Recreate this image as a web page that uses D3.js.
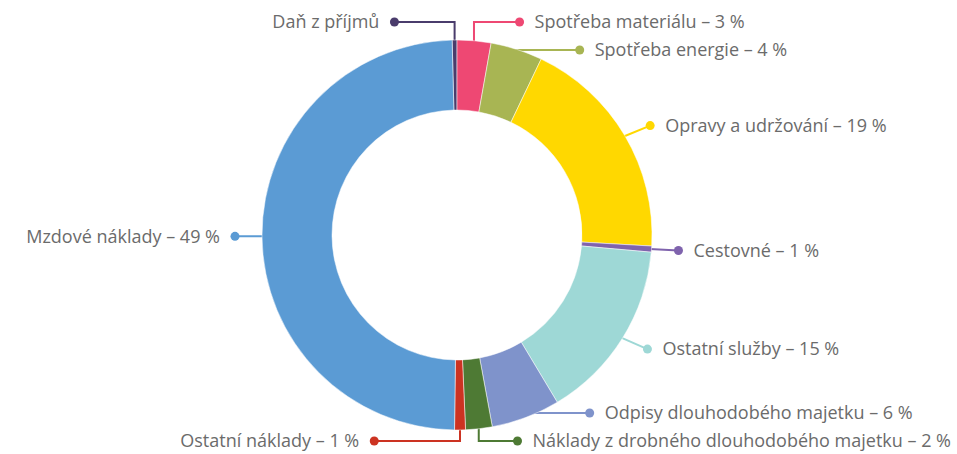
<!DOCTYPE html>
<html>
<head>
<meta charset="utf-8">
<script src="https://cdn.jsdelivr.net/npm/d3@7"></script>
<style>
  body { margin: 0; background: #fff; }
  text { font-family: "Open Sans", "Noto Sans", sans-serif; }
</style>
</head>
<body>
<div id="chart"></div>
<script>
// naklady - podily (%)
const categories = ["Daň z příjmů", "Spotřeba materiálu", "Spotřeba energie", "Opravy a udržování", "Cestovné",
    "Ostatní služby", "Odpisy dlouhodobého majetku", "Náklady z drobného dlouhodobého majetku", "Ostatní náklady", "Mzdové náklady"]
const values = [0.4, 2.8, 4.3, 18.8, 0.5, 15.0, 5.7, 2.2, 0.9, 49.4]
const percentLabels = ["", "3 %", "4 %", "19 %", "1 %", "15 %", "6 %", "2 %", "1 %", "49 %"]
const colors = ["#4a3c6c", "#ee4873", "#a8b553", "#ffd800", "#7f63ad", "#9ed8d6", "#7f93cb", "#4e7a34", "#cc3322", "#5b9bd4"]

const WIDTH = 957
const HEIGHT = 454
const cx = 457, cy = 235
const R = 195, r = 125
const TOP = 22, BOTTOM = 441, GAP = 28
const FONT_SIZE = 18

var svg = d3.select("#chart").append("svg")
    .attr("width", WIDTH)
    .attr("height", HEIGHT)

var data = categories.map(function (c, i) {
    return { name: c, value: values[i], pct: percentLabels[i], color: colors[i] }
})

var pie = d3.pie()
    .sort(null)
    .value(function (d) { return d.value })
    .startAngle(-0.025)
    .endAngle(2 * Math.PI - 0.025)

var arcs = pie(data)
var arc = d3.arc().innerRadius(r).outerRadius(R)

// measure label text so it can be kept inside the svg
var measure = svg.append("text").style("font-size", FONT_SIZE + "px")
arcs.forEach(function (d) {
    d.text = d.data.pct ? d.data.name + " – " + d.data.pct : d.data.name
    measure.text(d.text)
    d.tw = measure.node().getComputedTextLength()
})
measure.remove()

// label layout
arcs.forEach(function (d) {
    d.mid = (d.startAngle + d.endAngle) / 2
    d.ax = cx + (R - 2) * Math.sin(d.mid)
    d.ay = cy - (R - 2) * Math.cos(d.mid)
    d.right = d.ax > cx + 5
    d.ly = cy - (R + 20) * Math.cos(d.mid)
})

function spread(list) {
    list.sort(function (a, b) { return a.ly - b.ly })
    for (var i = 0; i < list.length; i++) {
        var min = i == 0 ? TOP : list[i - 1].ly + GAP
        list[i].ly = Math.max(list[i].ly, min)
    }
    for (var i = list.length - 1; i >= 0; i--) {
        var max = i == list.length - 1 ? BOTTOM : list[i + 1].ly - GAP
        list[i].ly = Math.min(list[i].ly, max)
    }
}
spread(arcs.filter(function (d) { return d.right }))
spread(arcs.filter(function (d) { return !d.right }))

arcs.forEach(function (d) {
    var dy = d.ly - cy
    var dx = Math.sqrt(Math.max(0, (R + 27) * (R + 27) - dy * dy))
    dx = Math.max(dx, Math.abs(d.ax - cx) + 25)
    if (d.right) {
        d.lx = Math.min(cx + dx, WIDTH - 6 - d.tw - 15)
    } else {
        d.lx = Math.max(cx - dx, 6 + d.tw + 15)
    }
    d.elbow = Math.abs(Math.sin(d.mid)) < 0.4
})

var g = svg.append("g")

// connectors (under the slices)
g.selectAll(".connector")
    .data(arcs)
    .enter()
    .append("path")
    .attr("class", "connector")
    .attr("d", function (d) {
        if (d.elbow) {
            return "M" + d.ax + "," + d.ay + "L" + d.ax + "," + d.ly + "L" + d.lx + "," + d.ly
        }
        return "M" + d.ax + "," + d.ay + "L" + d.lx + "," + d.ly
    })
    .style("fill", "none")
    .style("stroke", function (d) { return d.data.color })
    .style("stroke-width", 2)

g.append("g")
    .attr("transform", "translate(" + cx + "," + cy + ")")
    .selectAll("path")
    .data(arcs)
    .enter()
    .append("path")
    .attr("d", arc)
    .style("fill", function (d) { return d.data.color })
    .style("stroke", "#fff")
    .style("stroke-width", 0.5)

g.selectAll(".dot")
    .data(arcs)
    .enter()
    .append("circle")
    .attr("class", "dot")
    .attr("cx", function (d) { return d.lx })
    .attr("cy", function (d) { return d.ly })
    .attr("r", 4.5)
    .style("fill", function (d) { return d.data.color })

g.selectAll(".label")
    .data(arcs)
    .enter()
    .append("text")
    .attr("class", "label")
    .attr("x", function (d) { return d.right ? d.lx + 15 : d.lx - 15 })
    .attr("y", function (d) { return d.ly })
    .attr("dy", "0.35em")
    .attr("text-anchor", function (d) { return d.right ? "start" : "end" })
    .style("font-size", FONT_SIZE + "px")
    .style("fill", "#6b6b6b")
    .text(function (d) { return d.text })
</script>
</body>
</html>
